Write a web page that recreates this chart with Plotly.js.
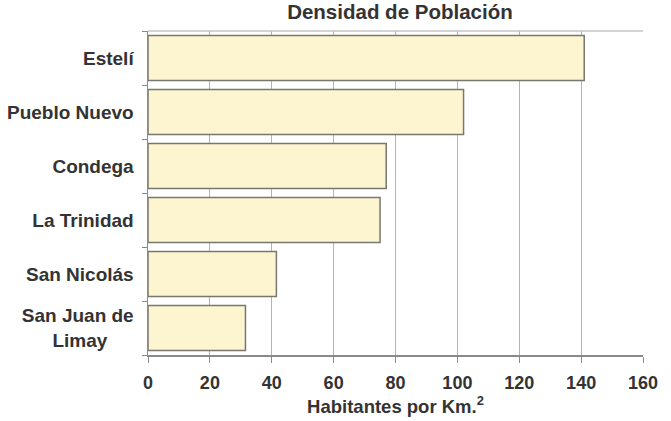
<!DOCTYPE html>
<html>
<head>
<meta charset="utf-8">
<script src="https://cdn.plot.ly/plotly-3.0.1.min.js"></script>
<style>html,body{margin:0;padding:0;background:#fff;}#chart{width:671px;height:421px;}</style>
</head>
<body>
<div id="chart"></div>
<script>
var categories = ["Estelí", "Pueblo Nuevo", "Condega", "La Trinidad", "San Nicolás", "San Juan de<br>Limay"];
var values = [141, 102, 77, 75, 41.5, 31.5];
var xTicks = [0, 20, 40, 60, 80, 100, 120, 140, 160];

// centre the second line of the multi-line label
var tickText = categories.map(function (c) {
  return c.replace("<br>Limay", "<br>Limay\u00A0\u00A0\u00A0\u00A0\u00A0");
});

var font = "Liberation Sans, Arial, sans-serif";
var txt = "#333333";

var trace = {
  type: "bar",
  orientation: "h",
  x: values,
  y: categories,
  marker: { color: "#FDF4D0", line: { color: "#77776f", width: 1.5 } },
  width: 0.83,
  hoverinfo: "x+y"
};

var layout = {
  width: 671, height: 421,
  margin: { l: 148, r: 28, t: 31, b: 66 },
  paper_bgcolor: "#ffffff",
  plot_bgcolor: "#ffffff",
  showlegend: false,
  title: { text: "<b>Densidad de Población</b>", x: 0.596, xanchor: "center", y: 0.99, yanchor: "top",
           font: { family: font, size: 20.5, color: txt } },
  xaxis: {
    range: [0, 160], tickvals: xTicks, ticktext: xTicks.map(function (v) { return "<b>" + v + "</b>"; }),
    showgrid: true, gridcolor: "#b4b4b4", gridwidth: 1,
    showline: true, linecolor: "#8a8a8a", linewidth: 1.5,
    ticks: "outside", ticklen: 6, tickcolor: "#8a8a8a", ticklabelstandoff: 5,
    tickfont: { family: font, size: 18, color: txt },
    zeroline: false, fixedrange: true,
    title: { text: "<b>Habitantes por Km.<sup>2</sup></b>", standoff: 0, font: { family: font, size: 18.5, color: txt } }
  },
  yaxis: {
    type: "category", autorange: "reversed",
    tickvals: categories, ticktext: tickText.map(function (t) { return "<b>" + t + "</b>"; }),
    showgrid: false, showline: true, linecolor: "#8a8a8a", linewidth: 1.5,
    ticks: "outside", tickson: "boundaries", ticklen: 5, tickcolor: "#8a8a8a", ticklabelstandoff: 9,
    tickfont: { family: font, size: 19, color: txt },
    zeroline: false, fixedrange: true
  },
  shapes: [
    { type: "line", xref: "paper", yref: "paper", x0: 0, x1: 1, y0: 1, y1: 1,
      line: { color: "#c4c4c4", width: 1.5 } }
  ]
};

Plotly.newPlot("chart", [trace], layout, { displayModeBar: false, staticPlot: true });
</script>
</body>
</html>
